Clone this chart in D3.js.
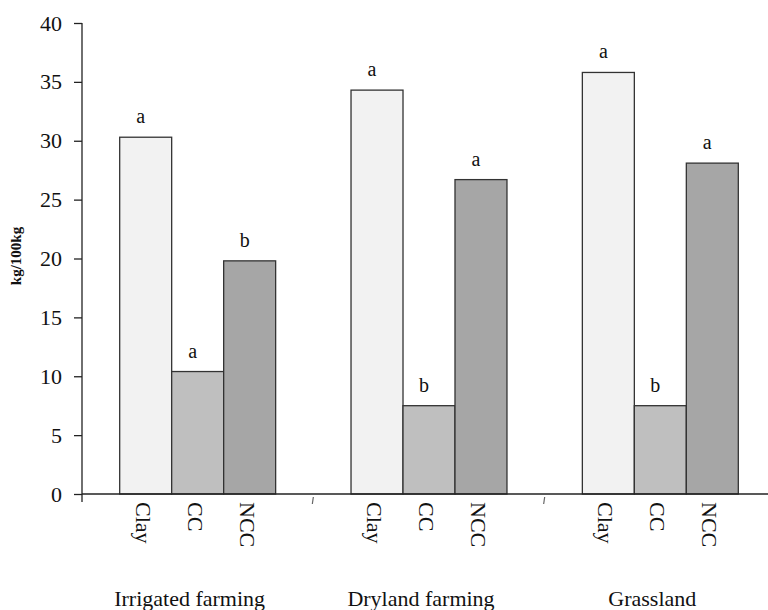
<!DOCTYPE html>
<html>
<head>
<meta charset="utf-8">
<script src="https://cdn.jsdelivr.net/npm/d3@7"></script>
<style>
  html, body { margin: 0; padding: 0; background: #fff; }
  svg { display: block; }
</style>
</head>
<body>
<svg id="chart" width="768" height="610"></svg>
<script>
// Land-use groups and the fractions measured in each
const groups = ["Irrigated farming", "Dryland farming", "Grassland"];
const fractions = ["Clay", "CC", "NCC"];

// kg/100kg per fraction, one array per group (Clay, CC, NCC)
const irrigated = [30.3, 10.4, 19.8];
const dryland = [34.3, 7.5, 26.7];
const grassland = [35.8, 7.5, 28.1];

// Significance letters shown above each bar
const lettersIrrigated = ["a", "a", "b"];
const lettersDryland = ["a", "b", "a"];
const lettersGrassland = ["a", "b", "a"];

const yTicks = [0, 5, 10, 15, 20, 25, 30, 35, 40];
const yLabel = "kg/100kg";

const fills = { Clay: "#f2f2f2", CC: "#bfbfbf", NCC: "#a6a6a6" };

const seriesByGroup = [irrigated, dryland, grassland];
const lettersByGroup = [lettersIrrigated, lettersDryland, lettersGrassland];
const rows = [];
groups.forEach((g, gi) => {
  fractions.forEach((f, fi) => {
    rows.push({ group: g, fraction: f, value: seriesByGroup[gi][fi], letter: lettersByGroup[gi][fi] });
  });
});

const svg = d3.select("#chart");
const margin = { left: 82, right: -8, top: 23, bottom: 116 };
const W = 768, H = 610;
const plotBottom = H - margin.bottom;

const x0 = d3.scaleBand().domain(groups).range([margin.left, W - margin.right]).padding(0);
const x1 = d3.scaleBand().domain(fractions).range([0, x0.bandwidth()])
  .paddingInner(0).paddingOuter(0.725);
const y = d3.scaleLinear().domain([0, 40]).range([plotBottom, margin.top]);

const serif = "'Liberation Serif', 'Times New Roman', serif";

// Bars
svg.append("g").selectAll("rect")
  .data(rows)
  .join("rect")
  .attr("x", d => x0(d.group) + x1(d.fraction))
  .attr("y", d => y(d.value))
  .attr("width", x1.bandwidth())
  .attr("height", d => y(0) - y(d.value))
  .attr("fill", d => fills[d.fraction])
  .attr("stroke", "#333")
  .attr("stroke-width", 1.3);

// Letters above bars
svg.append("g").selectAll("text")
  .data(rows)
  .join("text")
  .attr("x", d => x0(d.group) + x1(d.fraction) + x1.bandwidth() / 2 - 5)
  .attr("y", d => y(d.value) - 14)
  .attr("text-anchor", "middle")
  .attr("font-family", serif)
  .attr("font-size", 20)
  .attr("fill", "#111")
  .text(d => d.letter);

// Y axis
const yAxis = d3.axisLeft(y).tickValues(yTicks).tickSize(8).tickPadding(12).tickSizeOuter(0);
const yg = svg.append("g").attr("transform", `translate(${margin.left},0)`).call(yAxis);
yg.select(".domain").attr("stroke", "#222").attr("stroke-width", 1.3)
  .attr("d", `M0,${margin.top}V${plotBottom + 8}`);
yg.selectAll(".tick line").attr("stroke", "#222").attr("stroke-width", 1.3);
yg.selectAll(".tick text")
  .attr("font-family", serif)
  .attr("font-size", 22)
  .attr("fill", "#111");

// X axis baseline
svg.append("line")
  .attr("x1", margin.left).attr("x2", W)
  .attr("y1", y(0)).attr("y2", y(0))
  .attr("stroke", "#222").attr("stroke-width", 1.3);

// Small marks between groups
svg.append("g").selectAll("line")
  .data(groups.slice(1))
  .join("line")
  .attr("x1", d => x0(d)).attr("x2", d => x0(d) - 1)
  .attr("y1", y(0) + 3).attr("y2", y(0) + 10)
  .attr("stroke", "#666").attr("stroke-width", 1.2);

// Fraction labels, rotated
svg.append("g").selectAll("text")
  .data(rows)
  .join("text")
  .attr("transform", d => `translate(${x0(d.group) + x1(d.fraction) + x1.bandwidth() / 2 - 10},${plotBottom + 8}) rotate(90)`)
  .attr("text-anchor", "start")
  .attr("font-family", serif)
  .attr("font-size", 22)
  .attr("fill", "#111")
  .text(d => d.fraction);

// Group labels
svg.append("g").selectAll("text")
  .data(groups)
  .join("text")
  .attr("x", d => x0(d) + x0.bandwidth() / 2 - 8)
  .attr("y", 606)
  .attr("text-anchor", "middle")
  .attr("font-family", serif)
  .attr("font-size", 22)
  .attr("fill", "#111")
  .text(d => d);

// Y axis title
svg.append("text")
  .attr("transform", `translate(21,256) rotate(-90)`)
  .attr("text-anchor", "middle")
  .attr("font-family", serif)
  .attr("font-weight", "bold")
  .attr("font-size", 15)
  .attr("fill", "#111")
  .text(yLabel);
</script>
</body>
</html>
